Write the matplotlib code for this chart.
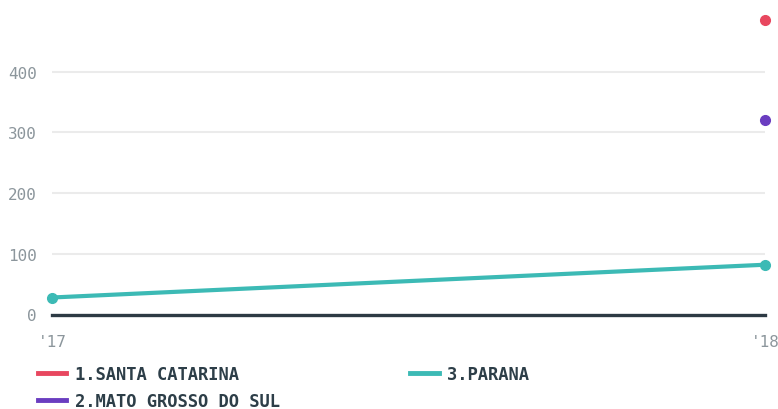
import matplotlib.pyplot as plt
from matplotlib.lines import Line2D

# data
years = ["'17", "'18"]
santa_catarina = [None, 485]
mato_grosso = [None, 321]
parana = [28, 82]

series = [
    ("1.SANTA CATARINA", santa_catarina, "#e8475f"),
    ("2.MATO GROSSO DO SUL", mato_grosso, "#6a3dc0"),
    ("3.PARANA", parana, "#3cbab5"),
]
y_ticks = [0, 100, 200, 300, 400]

TICK_COLOR = "#8c969c"
TEXT_COLOR = "#2d3e48"

fig = plt.figure(figsize=(7.78, 4.10), dpi=100)
ax = fig.add_axes([52 / 778, 1 - 315.5 / 410, (765 - 52) / 778, (315.5 - 12) / 410])

x = list(range(len(years)))
for name, vals, color in series:
    pts = [(xi, v) for xi, v in zip(x, vals) if v is not None]
    xs = [p[0] for p in pts]
    ys = [p[1] for p in pts]
    ax.plot(xs, ys, color=color, lw=3.0, marker="o", ms=7,
            solid_capstyle="round", clip_on=False, zorder=4)

ax.set_xlim(0, 1)
ax.set_ylim(0, 500)
ax.set_yticks(y_ticks)
ax.set_xticks(x)
ax.set_xticklabels(years)
for v in y_ticks[1:]:
    ax.axhline(v, color="#ebebeb", lw=1.5, zorder=1)
ax.axhline(0, color="#2d3a44", lw=2.4, zorder=3, clip_on=False)

for s in ax.spines.values():
    s.set_visible(False)
ax.tick_params(axis="both", length=0, colors=TICK_COLOR, labelsize=11.5)
ax.tick_params(axis="y", pad=11)
ax.tick_params(axis="x", pad=14)
for lab in ax.get_xticklabels() + ax.get_yticklabels():
    lab.set_family("DejaVu Sans Mono")

handles = [Line2D([], [], color=c, lw=3.5) for _, _, c in series]
labels = [n for n, _, _ in series]
leg = fig.legend(handles, labels, ncol=2, loc="upper left",
                 bbox_to_anchor=(38 / 778, 1 - 366 / 410), frameon=False,
                 prop={"family": "DejaVu Sans Mono", "weight": "bold", "size": 12.3},
                 handlelength=1.65, handletextpad=0.5, columnspacing=7.65,
                 labelspacing=0.52, borderaxespad=0, borderpad=0)
for t in leg.get_texts():
    t.set_color(TEXT_COLOR)

fig.savefig("out.png", dpi=100)
